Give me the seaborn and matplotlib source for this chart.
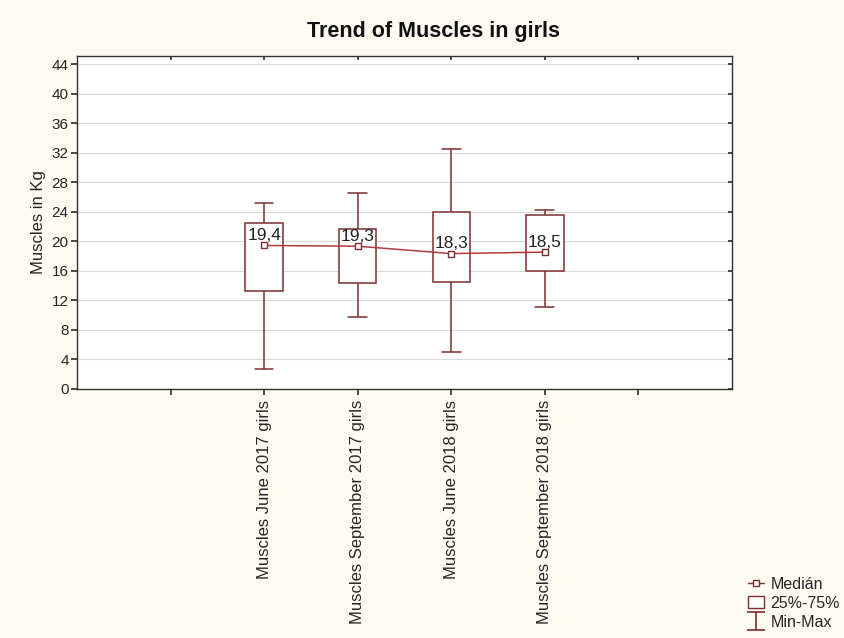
import numpy as np
import pandas as pd
import matplotlib.pyplot as plt
from matplotlib.lines import Line2D
from matplotlib.patches import Patch
from matplotlib.path import Path
import seaborn as sns

groups = ["Muscles June 2017 girls", "Muscles September 2017 girls",
          "Muscles June 2018 girls", "Muscles September 2018 girls"]
mins = [2.7, 9.7, 4.9, 11.0]
q1 = [13.2, 14.3, 14.5, 16.0]
medians = [19.4, 19.3, 18.3, 18.5]
q3 = [22.5, 21.7, 23.9, 23.5]
maxs = [25.2, 26.5, 32.5, 24.2]

# five numbers per group -> quartiles come out exactly
rows = []
for g, a, b, c, d, e in zip(groups, mins, q1, medians, q3, maxs):
    for v in (a, b, c, d, e):
        rows.append({"group": g, "value": v})
df = pd.DataFrame(rows)

sns.set_theme(style="white")
plt.rcParams["font.family"] = ["Liberation Sans", "DejaVu Sans"]

dark = "#7a2e2e"
red = "#b03a3a"
bg = "#fdfaf0"

fig = plt.figure(figsize=(8.45, 6.38), dpi=100, facecolor=bg)
ax = fig.add_axes([77/845, 1-388.5/638, (732-77)/845, (388.5-56)/638])
ax.set_facecolor("white")

sns.boxplot(data=df, x="group", y="value", order=groups, whis=(0, 100),
            width=0.4, color="white", linecolor=dark, linewidth=1.1,
            medianprops={"linewidth": 0}, ax=ax)
sns.pointplot(data=df, x="group", y="value", order=groups, estimator="median",
              errorbar=None, color=red, markers="s", linewidth=1.1,
              markersize=5, markerfacecolor="white", markeredgecolor=dark,
              markeredgewidth=1, ax=ax)

for i, m in enumerate(medians):
    ax.annotate(f"{m:.1f}".replace(".", ","), (i, m), xytext=(0, 1.5),
                textcoords="offset points", ha="center", va="bottom",
                fontsize=12.5, color="#222222")

ax.set_xlim(-2, 5)
ax.set_ylim(0, 45.1)
ax.set_yticks(range(0, 45, 4))
ax.set_xticks(range(-1, 5))
ax.set_xticklabels([""] + groups + [""], rotation=90, fontsize=12)
ax.tick_params(axis="y", which="both", labelsize=11, color="#333333", pad=2)
ax.tick_params(axis="y", left=True, length=4, direction="out")
ax.tick_params(axis="x", labelsize=12, color="#333333", pad=4)
ax.tick_params(axis="x", bottom=True, length=4, direction="out")
ax.tick_params(axis="x", top=True, labeltop=False)
ax.tick_params(axis="y", right=True, labelright=False)
# inward ticks on top and right
for t in ax.xaxis.get_major_ticks():
    t.tick2line.set_marker(3)
    t.tick2line.set_markersize(3)
for t in ax.yaxis.get_major_ticks():
    t.tick2line.set_marker(0)
    t.tick2line.set_markersize(3)
ax.yaxis.grid(True, color="#d9d9d9", linewidth=0.8)
ax.set_axisbelow(True)
for s in ax.spines.values():
    s.set_color("#333333")
    s.set_linewidth(1)
ax.set_xlabel("")
ax.set_ylabel("Muscles in Kg", fontsize=12, labelpad=4)

fig.text(434/845, 1-32/638, "Trend of Muscles in girls", ha="center",
         va="center", fontsize=15.5, fontweight="bold", color="#111111")

# legend in the statistica style
ibeam = Path([(-0.5, 0.5), (0.5, 0.5), (0, 0.5), (0, -0.5), (-0.5, -0.5), (0.5, -0.5)],
             [Path.MOVETO, Path.LINETO, Path.MOVETO, Path.LINETO, Path.MOVETO, Path.LINETO])
handles = [
    Line2D([0], [0], color=dark, lw=1, marker="s", markersize=5,
           markerfacecolor="white", markeredgecolor=dark),
    Patch(facecolor="white", edgecolor=dark, linewidth=1),
    Line2D([0], [0], color=dark, lw=0, marker=ibeam, markersize=13,
           markeredgewidth=1.2),
]
fig.legend(handles, ["Medián", "25%-75%", "Min-Max"], loc="lower left",
           bbox_to_anchor=(742/845, 2/638), frameon=False, fontsize=11.5,
           handlelength=1.0, handletextpad=0.4, labelspacing=0.25,
           borderaxespad=0)

fig.savefig("out.png", dpi=100, facecolor=bg)
